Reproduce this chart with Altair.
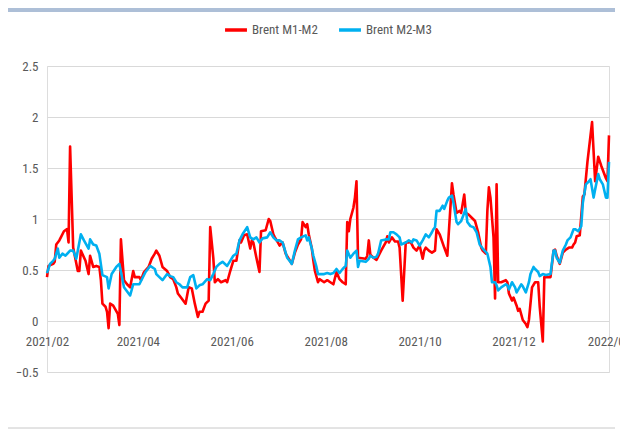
import altair as alt
import pandas as pd

series_names = ["Brent M1-M2", "Brent M2-M3"]
series_colors = ["#FF0000", "#00B0F0"]

m1m2_dates = [
    "2021-02-01", "2021-02-02", "2021-02-05", "2021-02-06", "2021-02-07", "2021-02-09", "2021-02-10",
    "2021-02-12", "2021-02-14", "2021-02-15", "2021-02-16", "2021-02-18", "2021-02-21", "2021-02-22",
    "2021-02-23", "2021-02-26", "2021-02-28", "2021-03-01", "2021-03-03", "2021-03-05", "2021-03-07",
    "2021-03-08", "2021-03-09", "2021-03-11", "2021-03-12", "2021-03-13", "2021-03-14", "2021-03-16",
    "2021-03-19", "2021-03-20", "2021-03-21", "2021-03-23", "2021-03-25", "2021-03-27", "2021-03-29",
    "2021-03-30", "2021-04-02", "2021-04-03", "2021-04-05", "2021-04-08", "2021-04-10", "2021-04-12",
    "2021-04-13", "2021-04-15", "2021-04-17", "2021-04-20", "2021-04-22", "2021-04-24", "2021-04-26",
    "2021-04-27", "2021-04-29", "2021-05-02", "2021-05-04", "2021-05-06", "2021-05-08", "2021-05-10",
    "2021-05-11", "2021-05-13", "2021-05-15", "2021-05-17", "2021-05-18", "2021-05-20", "2021-05-21",
    "2021-05-23", "2021-05-25", "2021-05-28", "2021-05-29", "2021-05-31", "2021-06-02", "2021-06-04",
    "2021-06-06", "2021-06-07", "2021-06-09", "2021-06-11", "2021-06-13", "2021-06-14", "2021-06-15",
    "2021-06-17", "2021-06-19", "2021-06-20", "2021-06-23", "2021-06-25", "2021-06-26", "2021-06-28",
    "2021-06-29", "2021-07-01", "2021-07-02", "2021-07-04", "2021-07-06", "2021-07-08", "2021-07-10",
    "2021-07-12", "2021-07-14", "2021-07-16", "2021-07-17", "2021-07-19", "2021-07-20", "2021-07-21",
    "2021-07-23", "2021-07-24", "2021-07-25", "2021-07-27", "2021-07-28", "2021-07-31", "2021-08-02",
    "2021-08-04", "2021-08-06", "2021-08-08", "2021-08-10", "2021-08-12", "2021-08-14", "2021-08-15",
    "2021-08-16", "2021-08-17", "2021-08-19", "2021-08-20", "2021-08-21", "2021-08-22", "2021-08-27",
    "2021-08-28", "2021-08-29", "2021-08-30", "2021-09-01", "2021-09-03", "2021-09-06", "2021-09-09",
    "2021-09-10", "2021-09-11", "2021-09-13", "2021-09-15", "2021-09-17", "2021-09-18", "2021-09-20",
    "2021-09-22", "2021-09-24", "2021-09-25", "2021-09-27", "2021-09-29", "2021-10-01", "2021-10-03",
    "2021-10-04", "2021-10-05", "2021-10-07", "2021-10-09", "2021-10-11", "2021-10-12", "2021-10-14",
    "2021-10-17", "2021-10-19", "2021-10-22", "2021-10-23", "2021-10-25", "2021-10-27", "2021-10-28",
    "2021-10-30", "2021-10-31", "2021-11-02", "2021-11-04", "2021-11-06", "2021-11-08", "2021-11-10",
    "2021-11-11", "2021-11-13", "2021-11-14", "2021-11-15", "2021-11-16", "2021-11-18", "2021-11-19",
    "2021-11-20", "2021-11-21", "2021-11-23", "2021-11-26", "2021-11-27", "2021-11-28", "2021-11-30",
    "2021-12-01", "2021-12-03", "2021-12-04", "2021-12-05", "2021-12-07", "2021-12-09", "2021-12-10",
    "2021-12-11", "2021-12-13", "2021-12-15", "2021-12-17", "2021-12-18", "2021-12-20", "2021-12-21",
    "2021-12-23", "2021-12-25", "2021-12-27", "2021-12-28", "2021-12-29", "2021-12-31", "2022-01-02",
    "2022-01-04", "2022-01-06", "2022-01-08", "2022-01-09", "2022-01-10", "2022-01-11", "2022-01-13",
    "2022-01-15", "2022-01-16", "2022-01-18", "2022-01-21", "2022-01-23", "2022-01-25", "2022-01-27",
    "2022-01-30", "2022-01-31", "2022-02-01",
]
m1m2_values = [
    0.43, 0.54, 0.56, 0.58, 0.75, 0.79, 0.82,
    0.88, 0.90, 0.77, 1.71, 0.72, 0.49, 0.49,
    0.69, 0.59, 0.46, 0.64, 0.53, 0.54, 0.53,
    0.40, 0.17, 0.14, 0.09, -0.07, 0.17, 0.15,
    0.07, -0.04, 0.80, 0.40, 0.36, 0.33, 0.49,
    0.43, 0.43, 0.40, 0.48, 0.53, 0.61, 0.66,
    0.69, 0.64, 0.53, 0.49, 0.43, 0.41, 0.33,
    0.27, 0.23, 0.17, 0.33, 0.32, 0.17, 0.04,
    0.09, 0.09, 0.17, 0.20, 0.92, 0.62, 0.38,
    0.41, 0.38, 0.40, 0.38, 0.49, 0.59, 0.59,
    0.79, 0.77, 0.84, 0.85, 0.71, 0.79, 0.77,
    0.62, 0.48, 0.88, 0.89, 1.00, 0.98, 0.85,
    0.82, 0.77, 0.74, 0.77, 0.66, 0.61, 0.56,
    0.67, 0.75, 0.80, 0.97, 0.92, 0.95, 0.85,
    0.71, 0.59, 0.49, 0.38, 0.41, 0.38, 0.40,
    0.38, 0.36, 0.48, 0.41, 0.38, 0.36, 0.97,
    0.88, 1.00, 1.11, 1.21, 1.37, 0.62, 0.61,
    0.64, 0.79, 0.65, 0.62, 0.60, 0.69, 0.77,
    0.83, 0.77, 0.82, 0.78, 0.78, 0.72, 0.20,
    0.77, 0.77, 0.78, 0.72, 0.69, 0.74, 0.61,
    0.69, 0.72, 0.69, 0.67, 0.69, 0.90, 0.85,
    0.72, 0.64, 1.35, 1.24, 1.06, 1.08, 1.06,
    1.24, 1.06, 1.04, 1.01, 0.98, 0.87, 0.72,
    0.69, 0.66, 1.08, 1.31, 1.21, 0.82, 0.22,
    1.34, 0.38, 0.38, 0.40, 0.38, 0.27, 0.20,
    0.23, 0.15, 0.10, 0.12, 0.01, -0.03, -0.06,
    0.01, 0.33, 0.38, 0.38, 0.14, -0.20, 0.43,
    0.43, 0.43, 0.69, 0.70, 0.64, 0.56, 0.67,
    0.70, 0.72, 0.72, 0.75, 0.77, 0.83, 0.84,
    1.22, 1.24, 1.56, 1.95, 1.37, 1.61, 1.52,
    1.40, 1.37, 1.82,
]

m2m3_dates = [
    "2021-02-01", "2021-02-03", "2021-02-05", "2021-02-06", "2021-02-08", "2021-02-09", "2021-02-11",
    "2021-02-13", "2021-02-16", "2021-02-18", "2021-02-20", "2021-02-23", "2021-02-25", "2021-02-28",
    "2021-03-01", "2021-03-03", "2021-03-05", "2021-03-07", "2021-03-09", "2021-03-12", "2021-03-13",
    "2021-03-15", "2021-03-18", "2021-03-20", "2021-03-23", "2021-03-26", "2021-03-27", "2021-03-29",
    "2021-04-02", "2021-04-06", "2021-04-09", "2021-04-12", "2021-04-13", "2021-04-17", "2021-04-20",
    "2021-04-22", "2021-04-24", "2021-04-26", "2021-04-28", "2021-04-30", "2021-05-03", "2021-05-05",
    "2021-05-07", "2021-05-09", "2021-05-11", "2021-05-13", "2021-05-16", "2021-05-18", "2021-05-20",
    "2021-05-22", "2021-05-24", "2021-05-26", "2021-05-29", "2021-05-31", "2021-06-02", "2021-06-04",
    "2021-06-06", "2021-06-08", "2021-06-11", "2021-06-13", "2021-06-15", "2021-06-17", "2021-06-19",
    "2021-06-21", "2021-06-24", "2021-06-26", "2021-06-28", "2021-06-30", "2021-07-02", "2021-07-04",
    "2021-07-07", "2021-07-09", "2021-07-10", "2021-07-12", "2021-07-14", "2021-07-16", "2021-07-19",
    "2021-07-20", "2021-07-21", "2021-07-23", "2021-07-24", "2021-07-26", "2021-07-27", "2021-07-31",
    "2021-08-02", "2021-08-04", "2021-08-06", "2021-08-08", "2021-08-10", "2021-08-12", "2021-08-14",
    "2021-08-15", "2021-08-17", "2021-08-19", "2021-08-21", "2021-08-22", "2021-08-23", "2021-08-27",
    "2021-08-29", "2021-08-30", "2021-09-01", "2021-09-03", "2021-09-04", "2021-09-06", "2021-09-09",
    "2021-09-11", "2021-09-12", "2021-09-14", "2021-09-16", "2021-09-18", "2021-09-19", "2021-09-22",
    "2021-09-24", "2021-09-26", "2021-09-27", "2021-09-29", "2021-10-01", "2021-10-03", "2021-10-05",
    "2021-10-07", "2021-10-09", "2021-10-10", "2021-10-11", "2021-10-12", "2021-10-14", "2021-10-16",
    "2021-10-17", "2021-10-19", "2021-10-20", "2021-10-22", "2021-10-23", "2021-10-25", "2021-10-26",
    "2021-10-28", "2021-10-31", "2021-11-01", "2021-11-03", "2021-11-05", "2021-11-07", "2021-11-09",
    "2021-11-11", "2021-11-14", "2021-11-16", "2021-11-17", "2021-11-19", "2021-11-20", "2021-11-21",
    "2021-11-23", "2021-11-26", "2021-11-27", "2021-11-28", "2021-11-30", "2021-12-02", "2021-12-03",
    "2021-12-06", "2021-12-07", "2021-12-09", "2021-12-11", "2021-12-12", "2021-12-14", "2021-12-15",
    "2021-12-17", "2021-12-18", "2021-12-20", "2021-12-22", "2021-12-25", "2021-12-27", "2021-12-28",
    "2021-12-29", "2021-12-31", "2022-01-02", "2022-01-04", "2022-01-05", "2022-01-07", "2022-01-09",
    "2022-01-10", "2022-01-12", "2022-01-14", "2022-01-15", "2022-01-17", "2022-01-19", "2022-01-20",
    "2022-01-22", "2022-01-23", "2022-01-25", "2022-01-26", "2022-01-28", "2022-01-30", "2022-01-31",
    "2022-02-01",
]
m2m3_values = [
    0.47, 0.56, 0.59, 0.61, 0.71, 0.62, 0.66,
    0.64, 0.69, 0.69, 0.61, 0.85, 0.79, 0.71,
    0.80, 0.75, 0.74, 0.66, 0.45, 0.43, 0.32,
    0.46, 0.53, 0.56, 0.33, 0.27, 0.25, 0.36,
    0.36, 0.48, 0.54, 0.51, 0.46, 0.40, 0.46,
    0.44, 0.43, 0.38, 0.36, 0.33, 0.33, 0.43,
    0.45, 0.32, 0.35, 0.36, 0.41, 0.40, 0.46,
    0.53, 0.56, 0.58, 0.54, 0.59, 0.64, 0.66,
    0.79, 0.85, 0.92, 0.82, 0.80, 0.82, 0.77,
    0.81, 0.82, 0.87, 0.82, 0.79, 0.79, 0.77,
    0.62, 0.58, 0.56, 0.69, 0.80, 0.82, 0.84,
    0.79, 0.82, 0.71, 0.64, 0.53, 0.46, 0.46,
    0.47, 0.46, 0.47, 0.51, 0.47, 0.51, 0.54,
    0.69, 0.62, 0.66, 0.69, 0.53, 0.59, 0.58,
    0.61, 0.64, 0.62, 0.63, 0.66, 0.79, 0.80,
    0.80, 0.87, 0.87, 0.85, 0.82, 0.75, 0.77,
    0.79, 0.77, 0.80, 0.79, 0.74, 0.79, 0.85,
    0.82, 0.87, 0.90, 0.92, 1.08, 1.08, 1.13,
    1.10, 1.18, 1.21, 1.23, 1.16, 0.97, 0.95,
    0.98, 1.10, 0.97, 0.93, 0.92, 0.87, 0.75,
    0.71, 0.66, 0.53, 0.38, 0.38, 0.35, 0.30,
    0.33, 0.36, 0.35, 0.31, 0.38, 0.33, 0.28,
    0.36, 0.34, 0.28, 0.38, 0.46, 0.53, 0.51,
    0.48, 0.44, 0.46, 0.45, 0.46, 0.69, 0.69,
    0.62, 0.57, 0.69, 0.75, 0.79, 0.82, 0.90,
    0.90, 0.88, 0.93, 1.16, 1.34, 1.37, 1.39,
    1.21, 1.29, 1.44, 1.39, 1.34, 1.21, 1.21,
    1.56,
]

y_ticks = [-0.5, 0, 0.5, 1, 1.5, 2, 2.5]

rows = []
for d, v in zip(m1m2_dates, m1m2_values):
    rows.append({"date": d, "value": v, "series": series_names[0]})
for d, v in zip(m2m3_dates, m2m3_values):
    rows.append({"date": d, "value": v, "series": series_names[1]})
df = pd.DataFrame(rows)

FONT = "Liberation Sans Narrow, Roboto Condensed, Liberation Sans, Arial"
TXT = "#595959"

x_ticks = [alt.DateTime(year=y, month=m, date=1, utc=True)
           for y, m in [(2021, 2), (2021, 4), (2021, 6), (2021, 8), (2021, 10), (2021, 12), (2022, 2)]]

H = 306
W = 562

lines = alt.Chart(df).mark_line(strokeWidth=2.6, strokeJoin="round").encode(
    x=alt.X("date:T",
            scale=alt.Scale(type="utc",
                            domain=[alt.DateTime(year=2021, month=2, date=1, utc=True),
                                    alt.DateTime(year=2022, month=2, date=1, utc=True)]),
            axis=alt.Axis(title=None, values=x_ticks, format="%Y/%m", grid=False,
                          domain=False, ticks=False, labelPadding=14, offset=-51,
                          labelFont=FONT, labelFontSize=13, labelColor=TXT,
                          labelOverlap=False, labelFlush=False)),
    y=alt.Y("value:Q",
            scale=alt.Scale(domain=[-0.5, 2.5], nice=False, zero=False),
            axis=alt.Axis(title=None, values=y_ticks, format="~g", grid=True,
                          gridColor="#D9D9D9", gridWidth=1, domain=False, ticks=False,
                          labelPadding=9, labelFont=FONT, labelFontSize=13, labelColor=TXT)),
    color=alt.Color("series:N",
                    scale=alt.Scale(domain=series_names, range=series_colors),
                    legend=alt.Legend(title=None, orient="none", legendX=176, legendY=-49,
                                      direction="horizontal", symbolType="stroke",
                                      symbolSize=480, symbolStrokeWidth=3.5,
                                      labelFont=FONT, labelFontSize=13, labelColor=TXT,
                                      labelOffset=3, columnPadding=14)),
)

deco = pd.DataFrame({"k": [0]})
top_band = alt.Chart(deco).mark_rule(color="#ADBFD7", strokeWidth=4).encode(
    x=alt.value(-39), x2=alt.value(568), y=alt.value(-56))
bottom_line = alt.Chart(deco).mark_rule(color="#C8C8C8", strokeWidth=1).encode(
    x=alt.value(-39), x2=alt.value(568), y=alt.value(362))

chart = alt.layer(lines, top_band, bottom_line).properties(
    width=W, height=H,
    autosize=alt.AutoSizeParams(type="none"),
    padding={"left": 39, "top": 58, "right": 11, "bottom": 57},
).configure_view(stroke=None).configure(background="white")

chart.save("out.html", embed_options={"renderer": "svg", "actions": False})
